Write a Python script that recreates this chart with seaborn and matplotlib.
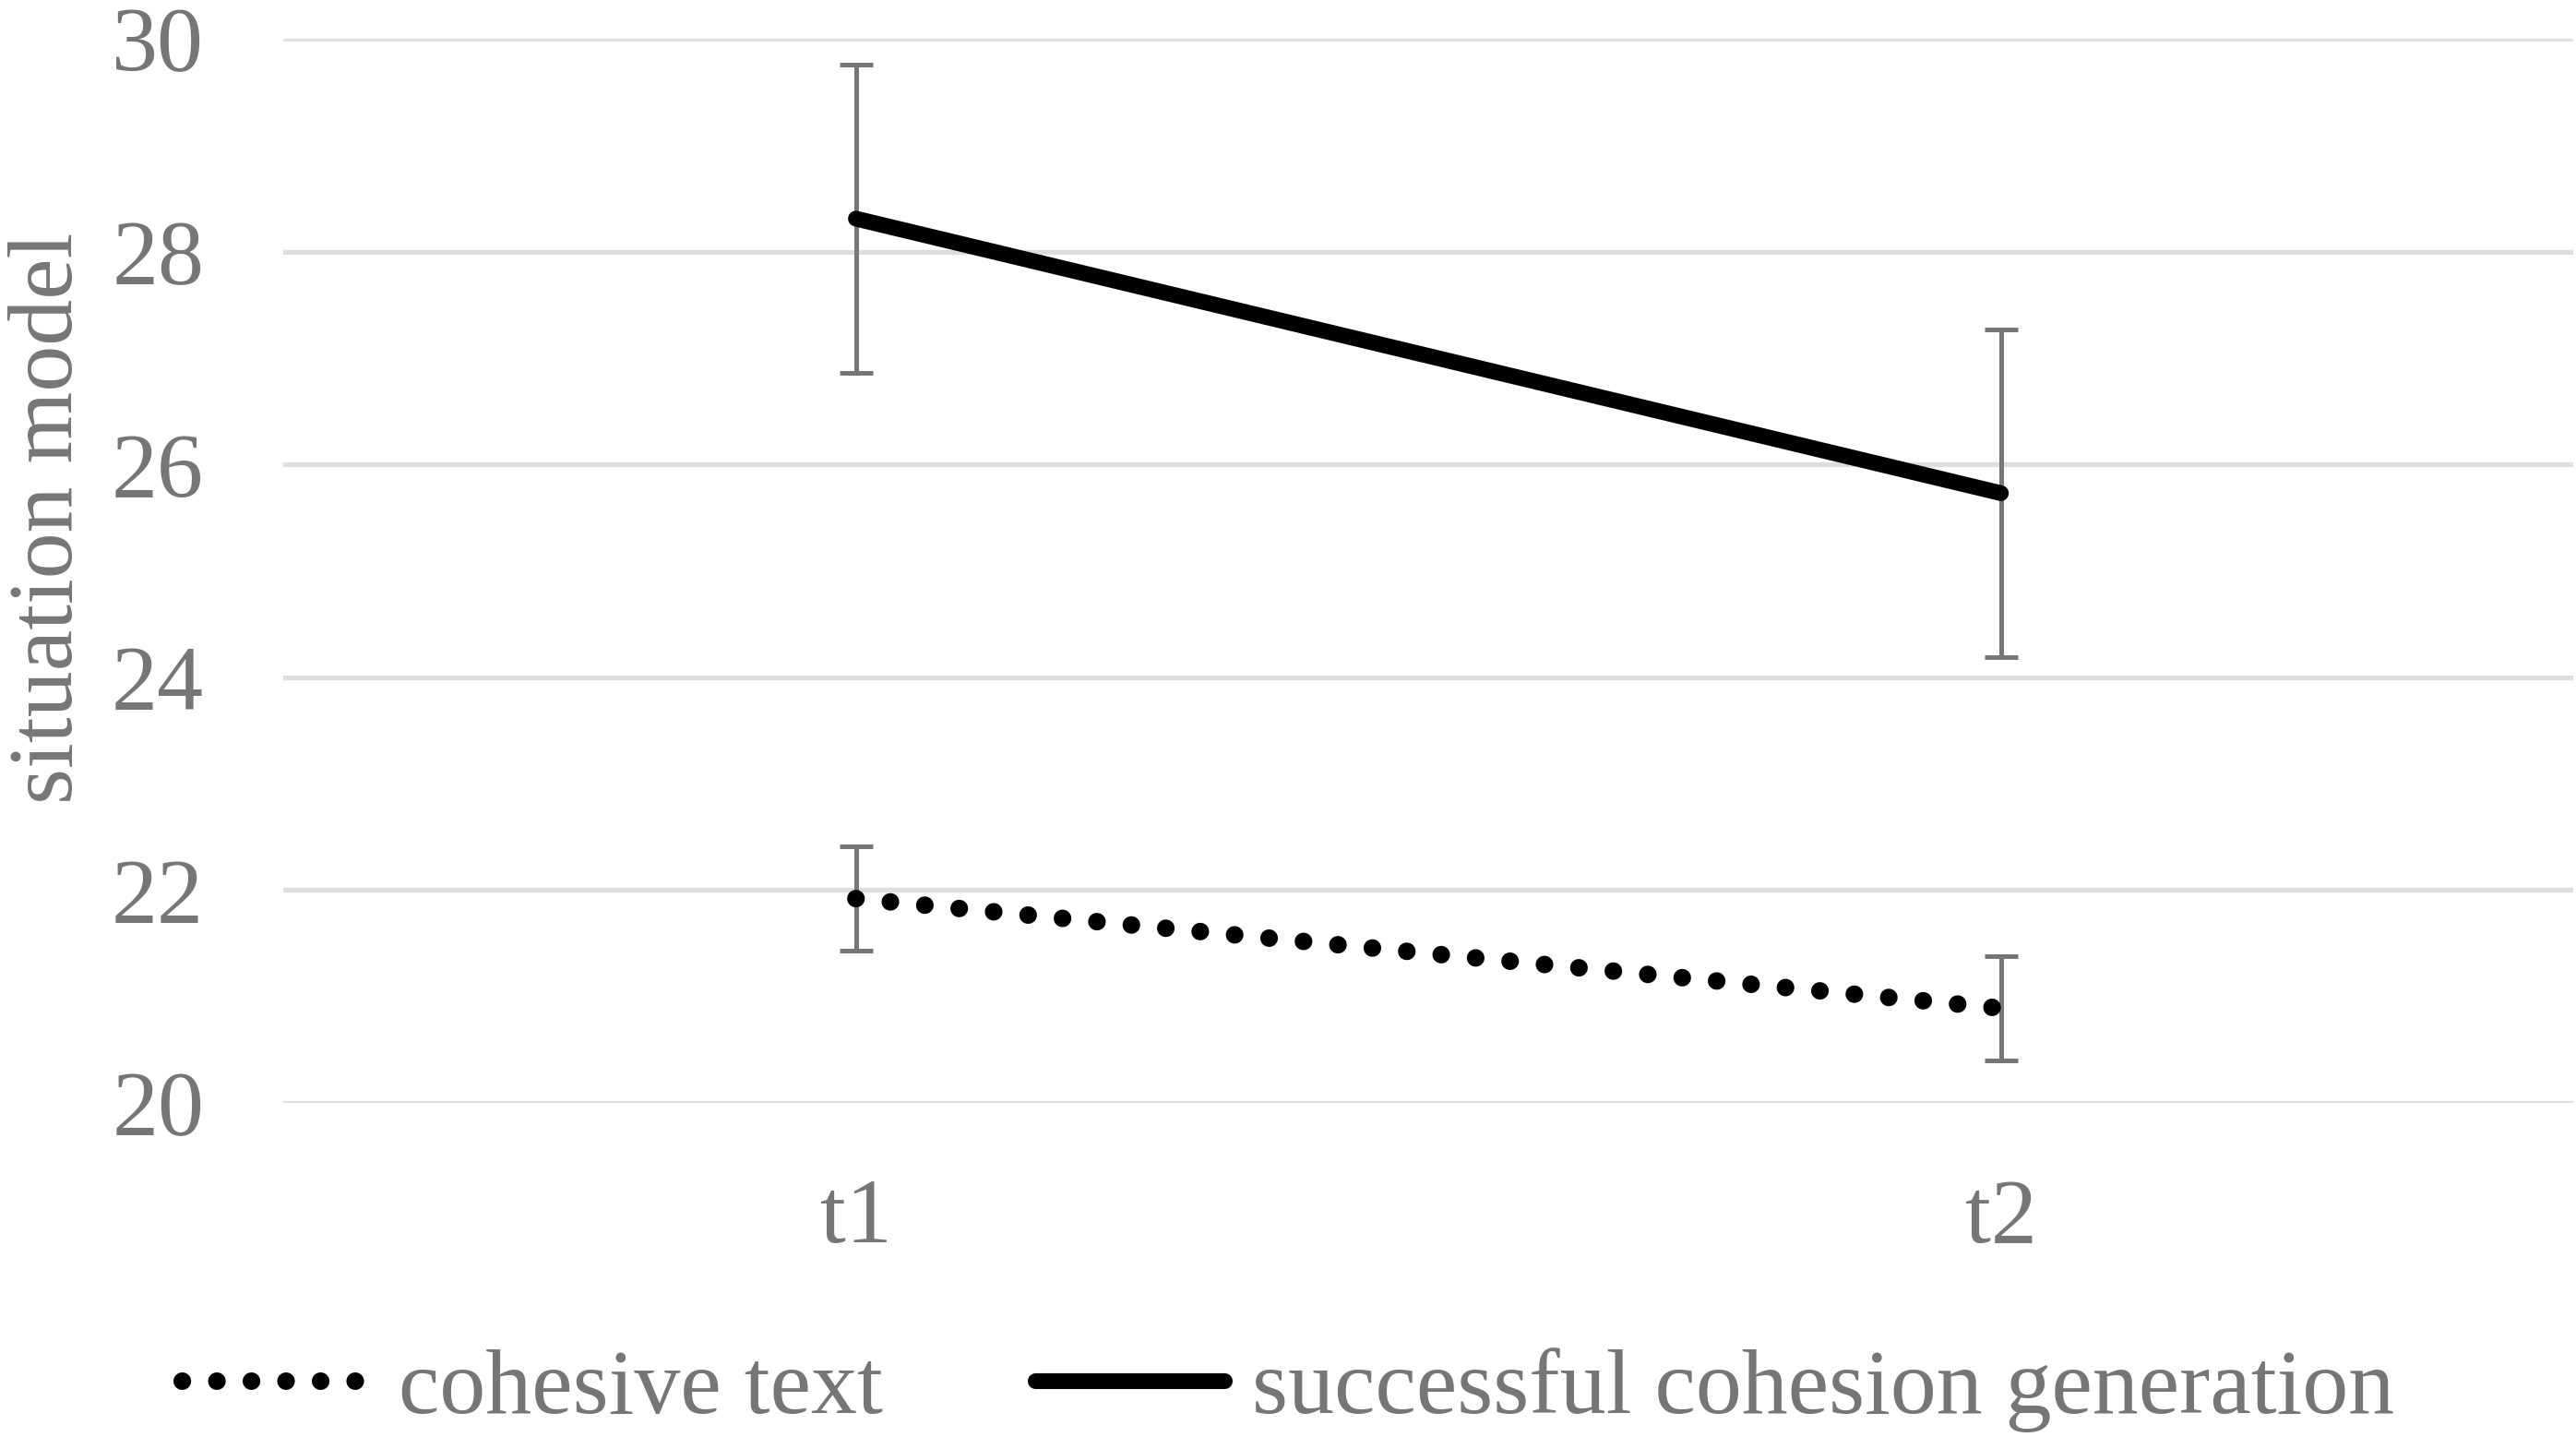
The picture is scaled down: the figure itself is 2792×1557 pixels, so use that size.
import matplotlib
matplotlib.use('Agg')
import matplotlib.pyplot as plt
import seaborn as sns
import pandas as pd


TIMES = ['t1', 't2']
COHESIVE_MEAN = [21.92, 20.89]
COHESIVE_ERR = [0.49, 0.49]
SUCCESS_MEAN = [28.31, 25.73]
SUCCESS_ERR = [1.45, 1.54]
SERIES = ['cohesive text', 'successful cohesion generation']
Y_TICKS = [20, 22, 24, 26, 28, 30]

TEXT_COLOR = '#767676'
GRID_COLOR = '#dedede'
ERR_COLOR = '#767676'
FONTSIZE = 72


def configure_plot_style(style='white'):
    sns.set_theme(style=style)
    plt.rcParams['font.family'] = ['Liberation Serif', 'DejaVu Serif']


configure_plot_style()

cohesive = pd.DataFrame({'time': TIMES, 'value': COHESIVE_MEAN, 'err': COHESIVE_ERR})
success = pd.DataFrame({'time': TIMES, 'value': SUCCESS_MEAN, 'err': SUCCESS_ERR})

fig = plt.figure(figsize=(27.92, 15.57), dpi=100)
ax = fig.add_axes([0.110, 0.2325, 0.889, 0.7405])

# error bars under the lines
for df in (cohesive, success):
    ax.errorbar(
        [0, 1], df['value'], yerr=df['err'], fmt='none',
        ecolor=ERR_COLOR, elinewidth=3.6, capsize=13.3, capthick=3.6, zorder=2
    )

sns.lineplot(
    data=cohesive, x='time', y='value', ax=ax, color='black',
    linewidth=13.7, linestyle=(0, (0.01, 1.96)), dash_capstyle='round',
    label=SERIES[0], zorder=3, sort=False
)
sns.lineplot(
    data=success, x='time', y='value', ax=ax, color='black',
    linewidth=12.3, solid_capstyle='round',
    label=SERIES[1], zorder=3, sort=False
)

ax.set_xlim(-0.5, 1.5)
ax.set_ylim(20, 30)
ax.set_yticks(Y_TICKS)
ax.set_xticks([0, 1])
ax.set_xticklabels(TIMES)
ax.grid(axis='y', color=GRID_COLOR, linewidth=3.8)
ax.grid(axis='x', visible=False)
ax.set_axisbelow(True)
for spine in ax.spines.values():
    spine.set_visible(False)

ax.tick_params(axis='y', length=0, pad=62, labelsize=FONTSIZE, labelcolor=TEXT_COLOR)
ax.tick_params(axis='x', length=0, pad=59, labelsize=FONTSIZE, labelcolor=TEXT_COLOR)
ax.set_xlabel('')
ax.set_ylabel('situation model', fontsize=FONTSIZE, color=TEXT_COLOR)
ax.yaxis.set_label_coords(-0.084, 0.550)

handles, labels = ax.get_legend_handles_labels()
if ax.get_legend() is not None:
    ax.get_legend().remove()
fig.legend(
    handles, labels, loc='center', bbox_to_anchor=(0.5, 0.033), ncol=2,
    frameon=False, fontsize=FONTSIZE, labelcolor=TEXT_COLOR,
    handlelength=2.05, handletextpad=0.3, columnspacing=1.65, borderpad=0
)

fig.savefig('out.png', dpi=100)
